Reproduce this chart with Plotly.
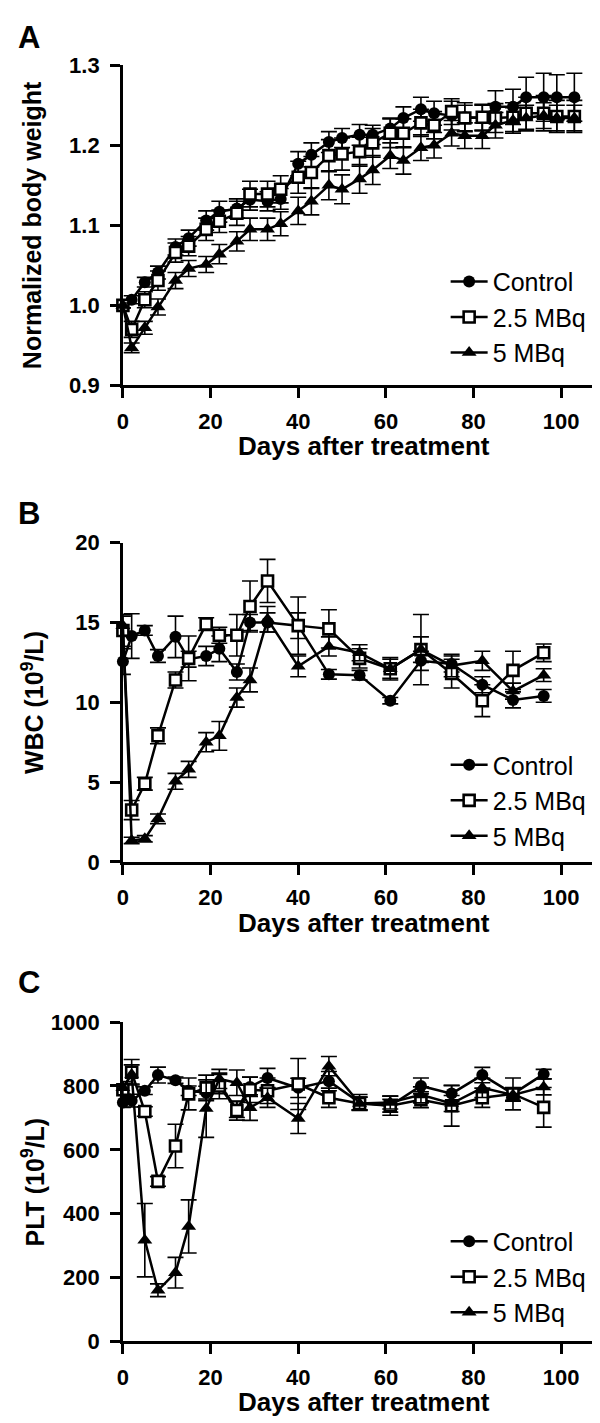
import plotly.graph_objects as go

W, H = 600, 1423
FONT = "Liberation Sans, Arial, sans-serif"

# ---------------- data ----------------
days_bw = [0, 2, 5, 8, 12, 15, 19, 22, 26, 29, 33, 36, 40, 43, 47, 50, 54, 57, 61, 64,
           68, 71, 75, 78, 82, 85, 89, 92, 96, 99, 103]
bw_control = [1.000, 1.007, 1.029, 1.041, 1.073, 1.084, 1.106, 1.117, 1.121, 1.132, 1.130,
              1.133, 1.177, 1.188, 1.204, 1.209, 1.213, 1.213, 1.221, 1.234, 1.245, 1.240,
              1.237, 1.235, 1.234, 1.248, 1.248, 1.260, 1.260, 1.260, 1.260]
bw_control_err = [0.003, 0.005, 0.006, 0.008, 0.010, 0.010, 0.012, 0.013, 0.012, 0.013, 0.012,
                  0.013, 0.015, 0.015, 0.013, 0.012, 0.013, 0.012, 0.013, 0.014, 0.015, 0.015,
                  0.018, 0.018, 0.016, 0.020, 0.022, 0.025, 0.030, 0.028, 0.030]
bw_25 = [1.000, 0.970, 1.007, 1.031, 1.066, 1.074, 1.095, 1.105, 1.115, 1.139, 1.139,
         1.145, 1.160, 1.166, 1.187, 1.189, 1.192, 1.203, 1.215, 1.215, 1.228, 1.225,
         1.242, 1.234, 1.235, 1.234, 1.235, 1.240, 1.240, 1.236, 1.236]
bw_25_err = [0.003, 0.010, 0.010, 0.012, 0.012, 0.012, 0.014, 0.014, 0.015, 0.016, 0.016,
             0.017, 0.020, 0.020, 0.020, 0.020, 0.018, 0.018, 0.018, 0.018, 0.017, 0.017,
             0.016, 0.016, 0.016, 0.018, 0.018, 0.020, 0.022, 0.020, 0.020]
bw_5 = [1.000, 0.947, 0.972, 0.998, 1.031, 1.046, 1.051, 1.064, 1.080, 1.095, 1.095,
        1.102, 1.118, 1.130, 1.150, 1.145, 1.158, 1.169, 1.187, 1.181, 1.197, 1.200,
        1.215, 1.212, 1.212, 1.225, 1.231, 1.234, 1.237, 1.234, 1.234]
bw_5_err = [0.003, 0.006, 0.008, 0.010, 0.010, 0.010, 0.010, 0.012, 0.012, 0.014, 0.014,
            0.015, 0.017, 0.017, 0.018, 0.018, 0.018, 0.018, 0.016, 0.017, 0.016, 0.016,
            0.016, 0.016, 0.016, 0.016, 0.016, 0.016, 0.016, 0.016, 0.016]

days_blood = [0, 2, 5, 8, 12, 15, 19, 22, 26, 29, 33, 40, 47, 54, 61, 68, 75, 82, 89, 96]
wbc_control = [12.55, 14.15, 14.5, 12.9, 14.1, 12.7, 12.9, 13.35, 11.9, 15.0, 15.0, 14.8,
               11.75, 11.7, 10.1, 12.6, 12.4, 11.1, 10.15, 10.4]
wbc_control_err = [0.8, 1.4, 0.3, 0.4, 1.3, 0.5, 0.6, 0.8, 0.5, 0.5, 0.6, 0.8,
                   0.3, 0.3, 0.2, 0.6, 0.5, 0.5, 0.5, 0.4]
wbc_25 = [14.5, 3.25, 4.9, 7.9, 11.4, 12.75, 14.9, 14.2, 14.2, 16.0, 17.6, 14.8,
          14.6, 12.75, 12.1, 13.3, 11.8, 10.1, 12.0, 13.1]
wbc_25_err = [1.0, 0.6, 0.4, 0.5, 0.5, 1.4, 0.4, 0.5, 1.3, 1.6, 1.35, 1.8,
              1.2, 0.6, 0.6, 2.2, 0.9, 1.0, 1.2, 0.55]
wbc_5 = [14.8, 1.35, 1.45, 2.7, 5.05, 5.8, 7.5, 7.9, 10.3, 11.4, 15.2, 12.25,
         13.5, 13.1, 12.1, 13.3, 12.3, 12.6, 10.7, 11.7]
wbc_5_err = [0.6, 0.2, 0.2, 0.3, 0.5, 0.5, 0.6, 0.9, 0.6, 0.75, 0.8, 0.65,
             0.6, 0.5, 0.7, 0.8, 0.7, 0.6, 0.5, 0.4]

plt_control = [748, 754, 785, 834, 818, 785, 779, 806, 726, 797, 825, 794,
               815, 748, 738, 800, 776, 834, 775, 837]
plt_control_err = [15, 20, 12, 25, 10, 15, 20, 30, 25, 30, 30, 30,
                   30, 25, 20, 25, 25, 24, 20, 15]
plt_25 = [788, 843, 720, 501, 612, 775, 794, 800, 723, 788, 785, 806,
          763, 745, 738, 757, 738, 763, 775, 733]
plt_25_err = [20, 40, 15, 15, 68, 50, 40, 40, 30, 40, 40, 80,
              30, 20, 30, 25, 64, 30, 50, 62]
plt_5 = [794, 836, 317, 160, 215, 360, 729, 822, 810, 732, 763, 698,
         862, 745, 748, 772, 745, 794, 772, 797]
plt_5_err = [20, 30, 115, 20, 48, 83, 90, 30, 40, 40, 30, 47,
             30, 20, 20, 25, 25, 30, 20, 25]

series_names = ["Control", "2.5 MBq", "5 MBq"]
x_ticks = [0, 20, 40, 60, 80, 100]
bw_ticks = [0.9, 1.0, 1.1, 1.2, 1.3]
wbc_ticks = [0, 5, 10, 15, 20]
plt_ticks = [0, 200, 400, 600, 800, 1000]
panel_letters = ["A", "B", "C"]
y_titles = ["Normalized body weight", "WBC (10<sup>9</sup>/L)", "PLT (10<sup>9</sup>/L)"]
x_title = "Days after treatment"

# ---------------- styling ----------------
marker_styles = [
    dict(symbol="circle", size=12, color="black", line=dict(width=0)),
    dict(symbol="square", size=11, color="white", line=dict(width=2.6, color="black")),
    dict(symbol="triangle-up", size=13, color="black", line=dict(width=0)),
]

# panel pixel geometry: (top_px, bottom_px)
panels = [(46, 372), (532, 857), (1020, 1345)]
x_left, x_right = 110, 597


def ydom(top, bottom):
    return [(H - bottom) / H, (H - top) / H]


fig = go.Figure()

panel_data = [
    (days_bw, [bw_control, bw_25, bw_5], [bw_control_err, bw_25_err, bw_5_err]),
    (days_blood, [wbc_control, wbc_25, wbc_5], [wbc_control_err, wbc_25_err, wbc_5_err]),
    (days_blood, [plt_control, plt_25, plt_5], [plt_control_err, plt_25_err, plt_5_err]),
]

for p, (days, vals, errs) in enumerate(panel_data):
    sfx = "" if p == 0 else str(p + 1)
    for s in range(3):
        fig.add_trace(go.Scatter(
            x=days, y=vals[s],
            mode="lines+markers",
            name=series_names[s],
            line=dict(color="black", width=2.5),
            marker=marker_styles[s],
            error_y=dict(type="data", array=errs[s], visible=True,
                         color="black", thickness=1.6, width=8),
            xaxis="x" + sfx, yaxis="y" + sfx,
            legend="legend" + sfx,
            legendrank=s + 1,
            cliponaxis=False,
        ))

axis_common = dict(
    showline=True, linewidth=2.6, linecolor="black",
    ticks="outside", ticklen=10, tickwidth=2.6, tickcolor="black",
    showgrid=False, zeroline=False,
    tickfont=dict(family=FONT, size=22, color="black", weight="bold"),
)

y_ranges = [[0.9, 1.3], [0, 20], [0, 1000]]
y_tickvals = [bw_ticks, wbc_ticks, plt_ticks]
y_fmt = [".1f", "d", "d"]

layout = dict(
    width=W, height=H,
    margin=dict(l=0, r=0, t=0, b=0),
    paper_bgcolor="white", plot_bgcolor="white",
    showlegend=True,
)

legend_rows = [263, 755, 1240]
annotations = []
letter_y = [18, 502, 980]

for p in range(3):
    sfx = "" if p == 0 else str(p + 1)
    top, bottom = panels[p]
    layout["xaxis" + sfx] = dict(
        axis_common, domain=[x_left / W, x_right / W], range=[0, 110],
        tickvals=x_ticks, anchor="y" + sfx, ticklabelstandoff=4,
    )
    layout["yaxis" + sfx] = dict(
        axis_common, domain=ydom(top, bottom), range=y_ranges[p],
        tickvals=y_tickvals[p], tickformat=y_fmt[p], anchor="x" + sfx,
        ticklabelstandoff=6,
    )
    layout["legend" + sfx] = dict(
        x=436 / W, xanchor="left",
        y=(H - (legend_rows[p] - 20)) / H, yanchor="top",
        font=dict(family=FONT, size=25, color="black"),
        itemwidth=37, bgcolor="rgba(0,0,0,0)", borderwidth=0,
        traceorder="normal",
    )
    # axis titles
    annotations.append(dict(
        text=x_title, x=(x_left + x_right) / 2 / W, y=(H - (bottom + 62)) / H,
        xref="paper", yref="paper", xanchor="center", yanchor="middle",
        showarrow=False, font=dict(family=FONT, size=26, color="black", weight="bold"),
    ))
    annotations.append(dict(
        text=y_titles[p], x=19 / W, y=(H - (top + bottom) / 2) / H,
        xref="paper", yref="paper", xanchor="center", yanchor="middle",
        textangle=-90, showarrow=False,
        font=dict(family=FONT, size=25, color="black", weight="bold"),
    ))
    annotations.append(dict(
        text=panel_letters[p], x=2 / W, y=(H - letter_y[p]) / H,
        xref="paper", yref="paper", xanchor="left", yanchor="middle",
        showarrow=False, font=dict(family=FONT, size=31, color="black", weight="bold"),
    ))

layout["annotations"] = annotations
fig.update_layout(**layout)

fig.write_html("out.html")
